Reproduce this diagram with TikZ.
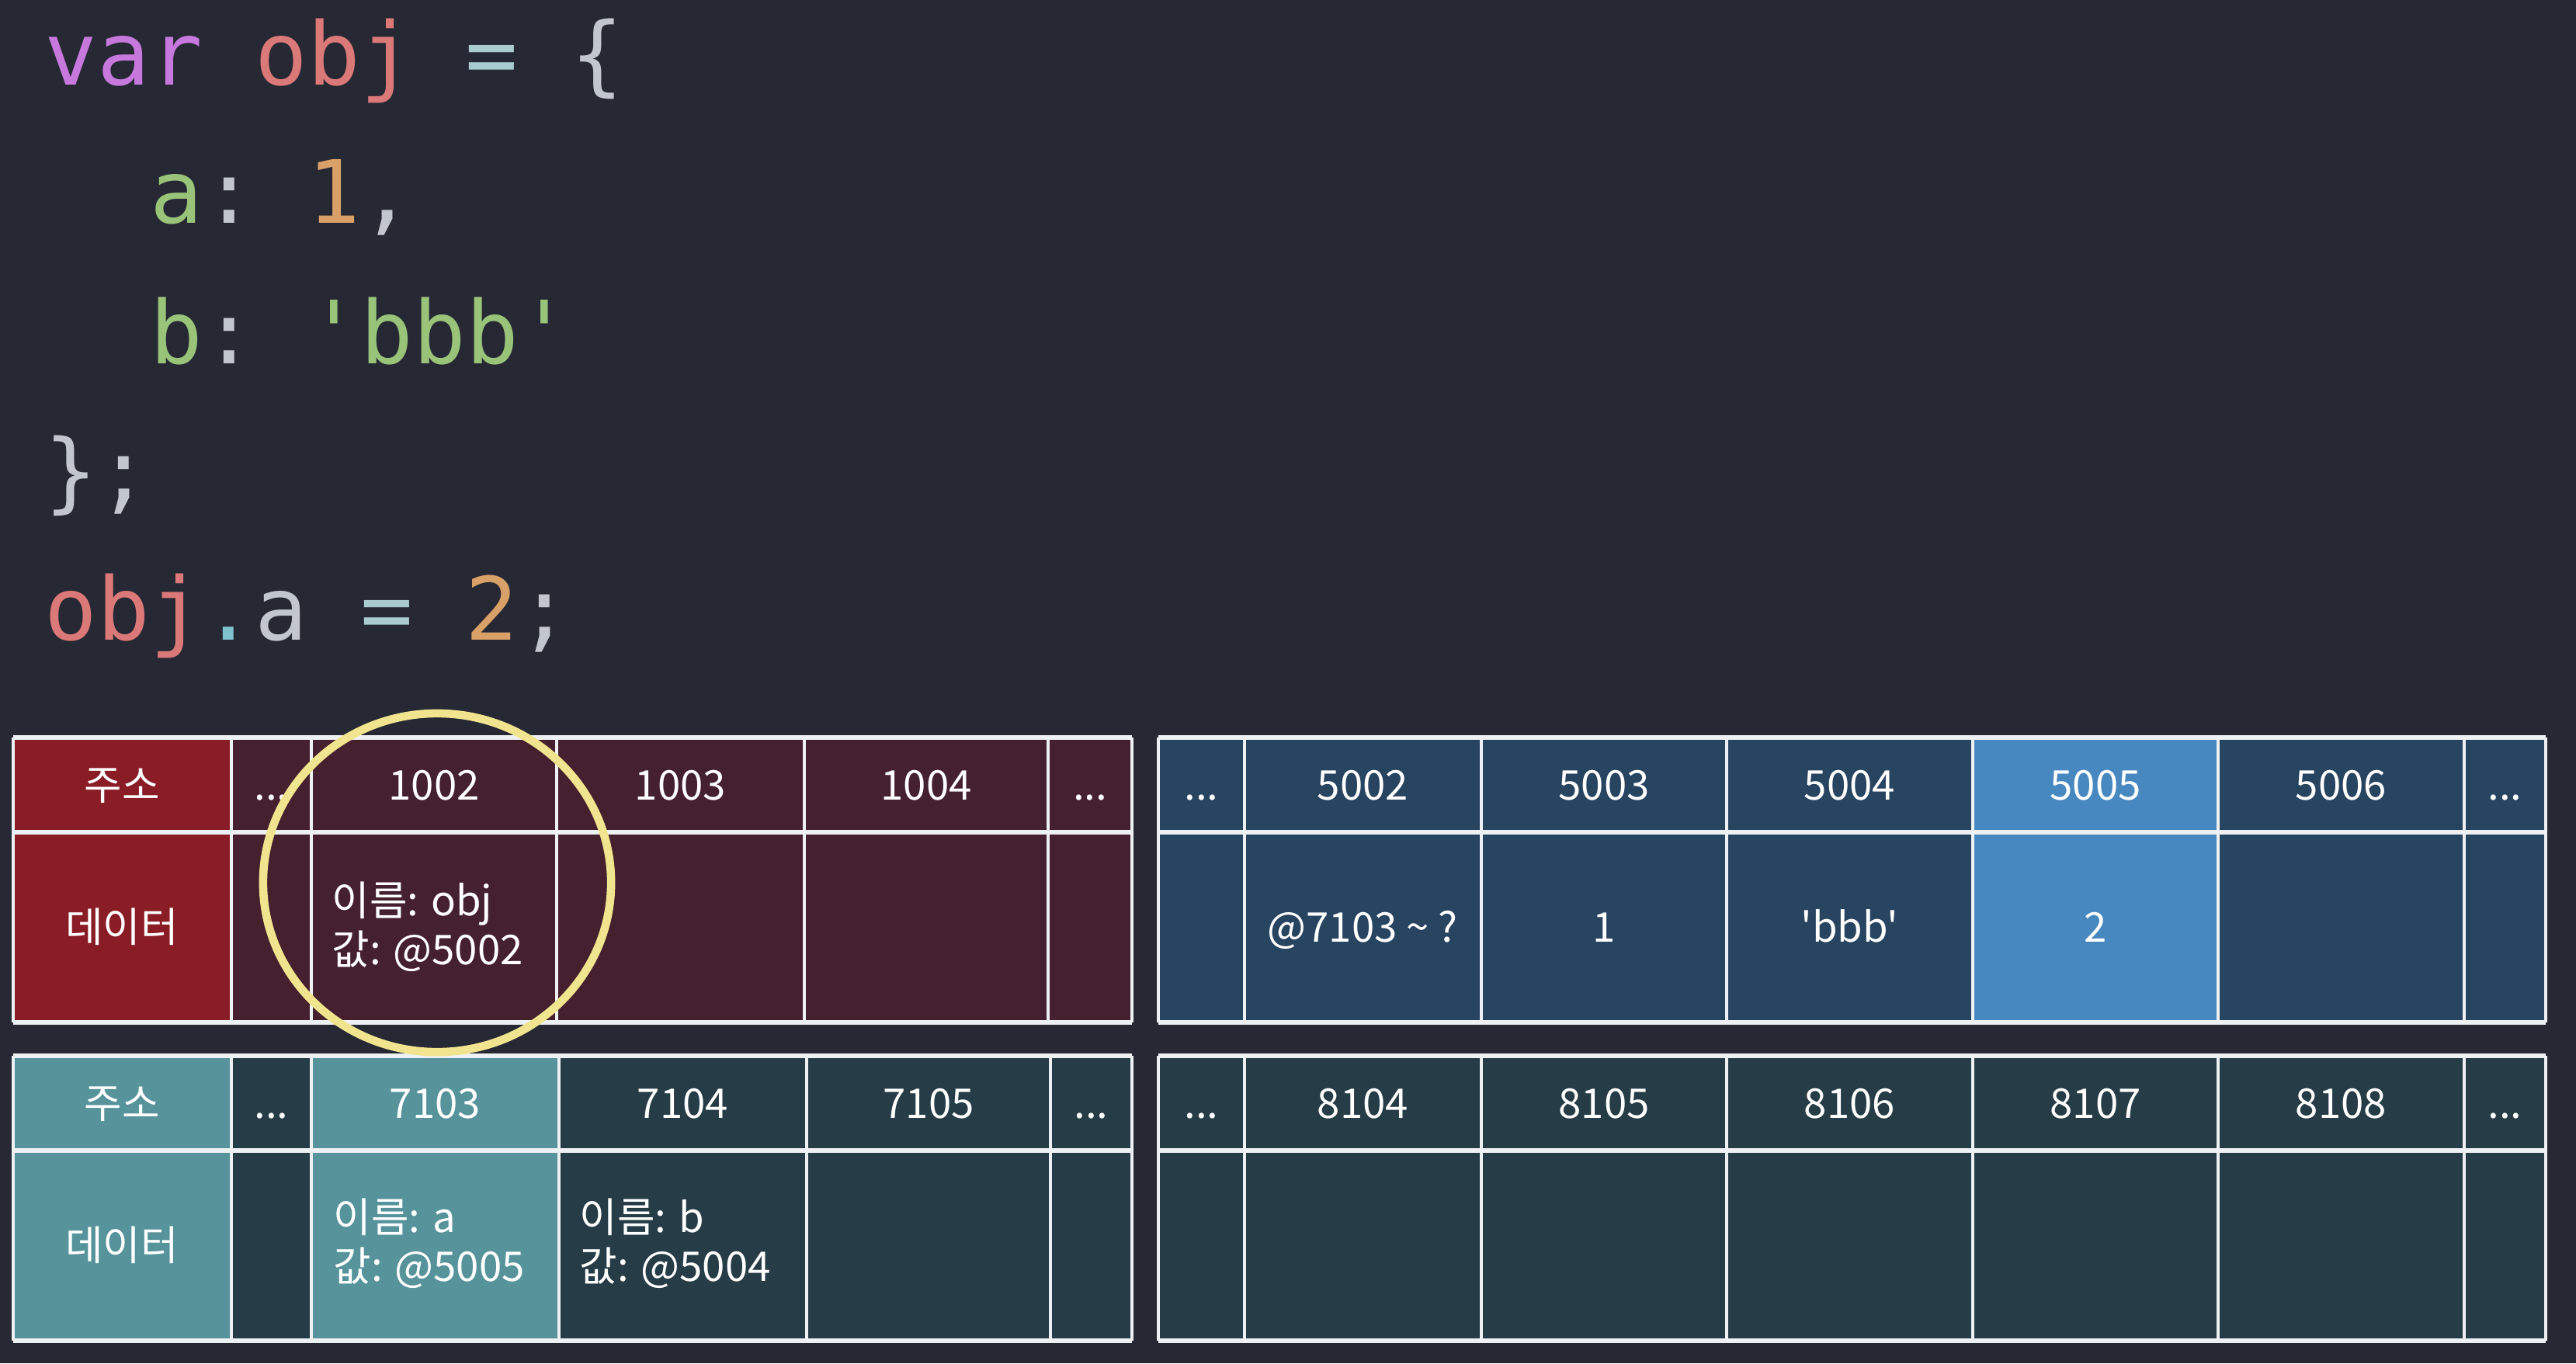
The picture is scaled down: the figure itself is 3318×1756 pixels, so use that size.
\documentclass[tikz,border=0pt]{standalone}
\usepackage{fontspec}
\setmainfont{Noto Sans CJK KR}[Ligatures=TeXOff]
\setmonofont{DejaVu Sans Mono}
\definecolor{bgInk}{HTML}{262833}
\definecolor{kwPurple}{HTML}{C678DD}
\definecolor{varRed}{HTML}{DB7878}
\definecolor{propGreen}{HTML}{98C379}
\definecolor{numOrange}{HTML}{D9A068}
\definecolor{punctGray}{HTML}{C2C7CF}
\definecolor{opCyan}{HTML}{A9CBD0}
\definecolor{dotCyan}{HTML}{7FC4CC}
\definecolor{memRed}{HTML}{8A1C25}
\definecolor{memMaroon}{HTML}{45202E}
\definecolor{memBlue}{HTML}{274460}
\definecolor{memSky}{HTML}{4888C0}
\definecolor{memTeal}{HTML}{56939B}
\definecolor{memSlate}{HTML}{263C47}
\definecolor{memLine}{HTML}{EEF1F3}
\definecolor{memYellow}{HTML}{F0E48E}
\newcommand{\celldots}{...}
\tikzset{
  code line/.style={anchor=base west, inner sep=0pt, text=punctGray,
    font=\ttfamily\fontsize{32}{38}\selectfont},
  mem text/.style={text=white, inner sep=0pt, font=\fontsize{15}{18}\selectfont},
  mem addr/.style={mem text, text height=11pt, text depth=0pt},
  mem note/.style={mem text, anchor=west, align=left},
  mem hline/.style={draw=memLine, line width=1.7pt},
  mem vline/.style={draw=memLine, line width=1.1pt},
  mem mark/.style={draw=memYellow, line width=3pt}
}

\begin{document}
\begin{tikzpicture}[x=0.01cm,y=-0.01cm]
  \fill[bgInk] (0,0) rectangle (3318,1756);
  \useasboundingbox (0,0) rectangle (3318,1756);

  % source code
  \node[code line] (line1) at (57,109) {\textcolor{kwPurple}{var} \textcolor{varRed}{obj} \textcolor{opCyan}{=} \{};
  \node[code line] (line2) at (193,287) {\textcolor{propGreen}{a}: \textcolor{numOrange}{1},};
  \node[code line] (line3) at (193,468) {\textcolor{propGreen}{b}: \textcolor{propGreen}{'bbb'}};
  \node[code line] (line4) at (57,646) {\};};
  \node[code line] (line5) at (57,824) {\textcolor{varRed}{obj}\textcolor{dotCyan}{.}a \textcolor{opCyan}{=} \textcolor{numOrange}{2};};

  % memory 1000
  \foreach \xa/\xb/\cname/\addr/\shade in {17/298/tag/주소/memRed, 298/401/left/\celldots/memMaroon,
      401/717/c1002/1002/memMaroon, 717/1036/c1003/1003/memMaroon,
      1036/1350/c1004/1004/memMaroon, 1350/1458/right/\celldots/memMaroon} {
    \fill[\shade] (\xa,950) rectangle (\xb,1317);
    \node[mem addr] (p-\cname) at ({(\xa+\xb)/2},1011) {\addr};
  }
  \node[mem addr] (p-data) at (157,1194) {데이터};
  \node[mem note] (p-obj) at (427,1194) {이름: obj\\값: @5002};
  \foreach \y in {950,1072,1317}
    \draw[mem hline] (17,\y) -- (1458,\y);
  \foreach \x in {17,298,401,717,1036,1350,1458}
    \draw[mem vline] (\x,950) -- (\x,1317);

  % memory 5000
  \foreach \xa/\xb/\cname/\addr/\shade in {1492/1603/left/\celldots/memBlue,
      1603/1908/c5002/5002/memBlue, 1908/2224/c5003/5003/memBlue,
      2224/2541/c5004/5004/memBlue, 2541/2857/c5005/5005/memSky,
      2857/3174/c5006/5006/memBlue, 3174/3279/right/\celldots/memBlue} {
    \fill[\shade] (\xa,950) rectangle (\xb,1317);
    \node[mem addr] (q-\cname) at ({(\xa+\xb)/2},1011) {\addr};
  }
  \node[mem addr] (q-v5002) at (1755,1194) {@7103 \textasciitilde{} ?};
  \node[mem addr] (q-v5003) at (2066,1194) {1};
  \node[mem addr] (q-v5004) at (2382,1194) {'bbb'};
  \node[mem addr] (q-v5005) at (2699,1194) {2};
  \foreach \y in {950,1072,1317}
    \draw[mem hline] (1492,\y) -- (3279,\y);
  \foreach \x in {1492,1603,1908,2224,2541,2857,3174,3279}
    \draw[mem vline] (\x,950) -- (\x,1317);

  % memory 7100
  \foreach \xa/\xb/\cname/\addr/\shade in {17/298/tag/주소/memTeal, 298/401/left/\celldots/memSlate,
      401/720/c7103/7103/memTeal, 720/1039/c7104/7104/memSlate,
      1039/1353/c7105/7105/memSlate, 1353/1458/right/\celldots/memSlate} {
    \fill[\shade] (\xa,1360) rectangle (\xb,1727);
    \node[mem addr] (r-\cname) at ({(\xa+\xb)/2},1421) {\addr};
  }
  \node[mem addr] (r-data) at (157,1604) {데이터};
  \node[mem note] (r-a) at (429,1602) {이름: a\\값: @5005};
  \node[mem note] (r-b) at (746,1602) {이름: b\\값: @5004};
  \foreach \y in {1360,1482,1727}
    \draw[mem hline] (17,\y) -- (1458,\y);
  \foreach \x in {17,298,401,720,1039,1353,1458}
    \draw[mem vline] (\x,1360) -- (\x,1727);

  % memory 8100
  \foreach \xa/\xb/\cname/\addr in {1492/1603/left/\celldots, 1603/1908/c8104/8104,
      1908/2224/c8105/8105, 2224/2541/c8106/8106, 2541/2857/c8107/8107,
      2857/3174/c8108/8108, 3174/3279/right/\celldots} {
    \fill[memSlate] (\xa,1360) rectangle (\xb,1727);
    \node[mem addr] (s-\cname) at ({(\xa+\xb)/2},1421) {\addr};
  }
  \foreach \y in {1360,1482,1727}
    \draw[mem hline] (1492,\y) -- (3279,\y);
  \foreach \x in {1492,1603,1908,2224,2541,2857,3174,3279}
    \draw[mem vline] (\x,1360) -- (\x,1727);

  % highlight
  \draw[mem mark] (563,1137) ellipse [x radius=2.24cm, y radius=2.18cm];
\end{tikzpicture}
\end{document}
